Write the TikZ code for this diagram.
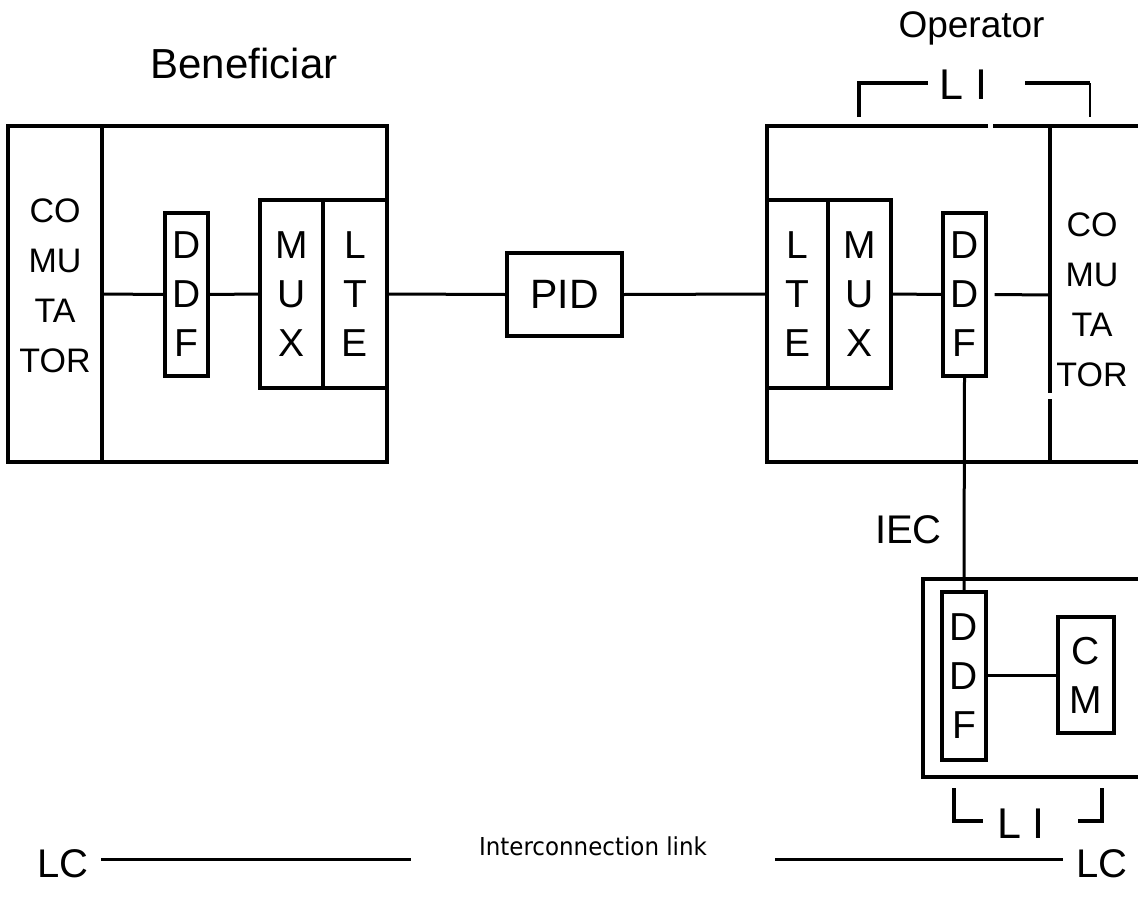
\documentclass[tikz,border=0pt]{standalone}
\usepackage{fontspec}
\setmainfont{Liberation Sans}
\newfontfamily\condfont[FakeStretch=0.93]{DejaVu Sans}
\begin{document}
\begin{tikzpicture}[x=1pt,y=-1pt,
  box/.style={draw, rectangle, line width=3.3pt, inner sep=0pt, align=center,
              font=\fontsize{39}{49}\selectfont},
  conn/.style={line width=3pt},
  frame/.style={line width=3.3pt, line join=miter},
  lbl/.style={inner sep=0pt, anchor=base},
  comtxt/.style={inner sep=0pt, align=center, font=\fontsize{34}{50}\selectfont}
]
\clip (0,0) rectangle (1138,905);
\fill[white] (0,0) rectangle (1138,905);

% ---------- left (Beneficiar) ----------
\node[lbl, font=\fontsize{42}{50}\selectfont] (benef) at (244,78) {Beneficiar};
\node[box, minimum width=379, minimum height=336] (lframe) at (197.5,294) {};
\node[box, minimum width=94, minimum height=336] (lcom) at (55,294) {};
\node[comtxt] (lcomtxt) at (55,286) {CO\\MU\\TA\\TOR};
\node[box, minimum width=43, minimum height=163] (lddf) at (186.5,294.5) {D\\D\\F};
\node[box, minimum width=63, minimum height=188] (lmux) at (291.5,294) {M\\U\\X};
\node[box, minimum width=64, minimum height=188] (llte) at (355,294) {L\\T\\E};

% ---------- PID ----------
\node[box, minimum width=115, minimum height=83, font=\fontsize{41}{49}\selectfont] (pid) at (564.5,294.5) {PID};

% ---------- right (Operator) ----------
\node[lbl, font=\fontsize{37}{45}\selectfont] (oper) at (971.5,37) {Operator};
\draw[frame] (1145,126) -- (993,126);
\draw[frame] (988,126) -- (767,126) -- (767,462) -- (1145,462);
\draw[frame] (1050,126) -- (1050,393);
\draw[frame] (1050,399) -- (1050,462);
\coordinate (rdiv) at (1050,295);
\node[box, minimum width=61, minimum height=188] (rlte) at (797.5,294) {L\\T\\E};
\node[box, minimum width=63, minimum height=188] (rmux) at (859.5,294) {M\\U\\X};
\node[box, minimum width=43, minimum height=163] (rddf) at (964.5,294.5) {D\\D\\F};
\node[comtxt] (rcomtxt) at (1092,300) {CO\\MU\\TA\\TOR};

% top LI bracket
\draw[line width=3.3pt] (859,117) -- (859,83) -- (928,83);
\draw[line width=3.3pt] (1025,83) -- (1090,83);
\draw[line width=1.6pt] (1090,83) -- (1090,117);
\node[lbl, font=\fontsize{43}{50}\selectfont] (litop) at (963.5,99) {L I};

% ---------- bottom (CM) ----------
\draw[frame] (1145,579) -- (923,579) -- (923,777) -- (1145,777);
\node[box, minimum width=44, minimum height=168] (bddf) at (964,676) {D\\D\\F};
\node[box, minimum width=56, minimum height=116] (cm) at (1086,675) {C\\M};
\node[lbl, font=\fontsize{40}{48}\selectfont] (iec) at (908.5,543) {IEC};

% bottom LI bracket
\draw[line width=3.3pt] (954,788) -- (954,821) -- (983,821);
\draw[line width=3.3pt] (1078,821) -- (1102,821) -- (1102,788);
\node[lbl, font=\fontsize{43}{50}\selectfont] (libot) at (1021,838) {L I};

% ---------- connectors ----------
\draw[conn] (lcom.east) -- (lddf.west);
\draw[conn] (lddf.east) -- (lmux.west);
\draw[conn] (llte.east) -- (pid.west);
\draw[conn] (pid.east) -- (rlte.west);
\draw[conn] (rmux.east) -- (rddf.west);
\draw[conn] ([xshift=7pt]rddf.east) -- (rdiv);
\draw[conn] (rddf.south) -- (bddf.north);
\draw[conn] (bddf.east |- cm.west) -- (cm.west);

% ---------- interconnection link ----------
\node[lbl, font=\fontsize{40}{48}\selectfont] (lcl) at (63,877) {LC};
\node[lbl, font=\fontsize{40}{48}\selectfont] (lcr) at (1102,877) {LC};
\node[lbl, font=\condfont\fontsize{24.7}{30}\selectfont] (ilink) at (593,855) {Interconnection link};
\coordinate (ll1) at (101,859);
\coordinate (ll2) at (411,859);
\coordinate (lr1) at (775,859);
\coordinate (lr2) at (1063,859);
\draw[conn] (ll1) -- (ll2);
\draw[conn] (lr1) -- (lr2);
\end{tikzpicture}
\end{document}
